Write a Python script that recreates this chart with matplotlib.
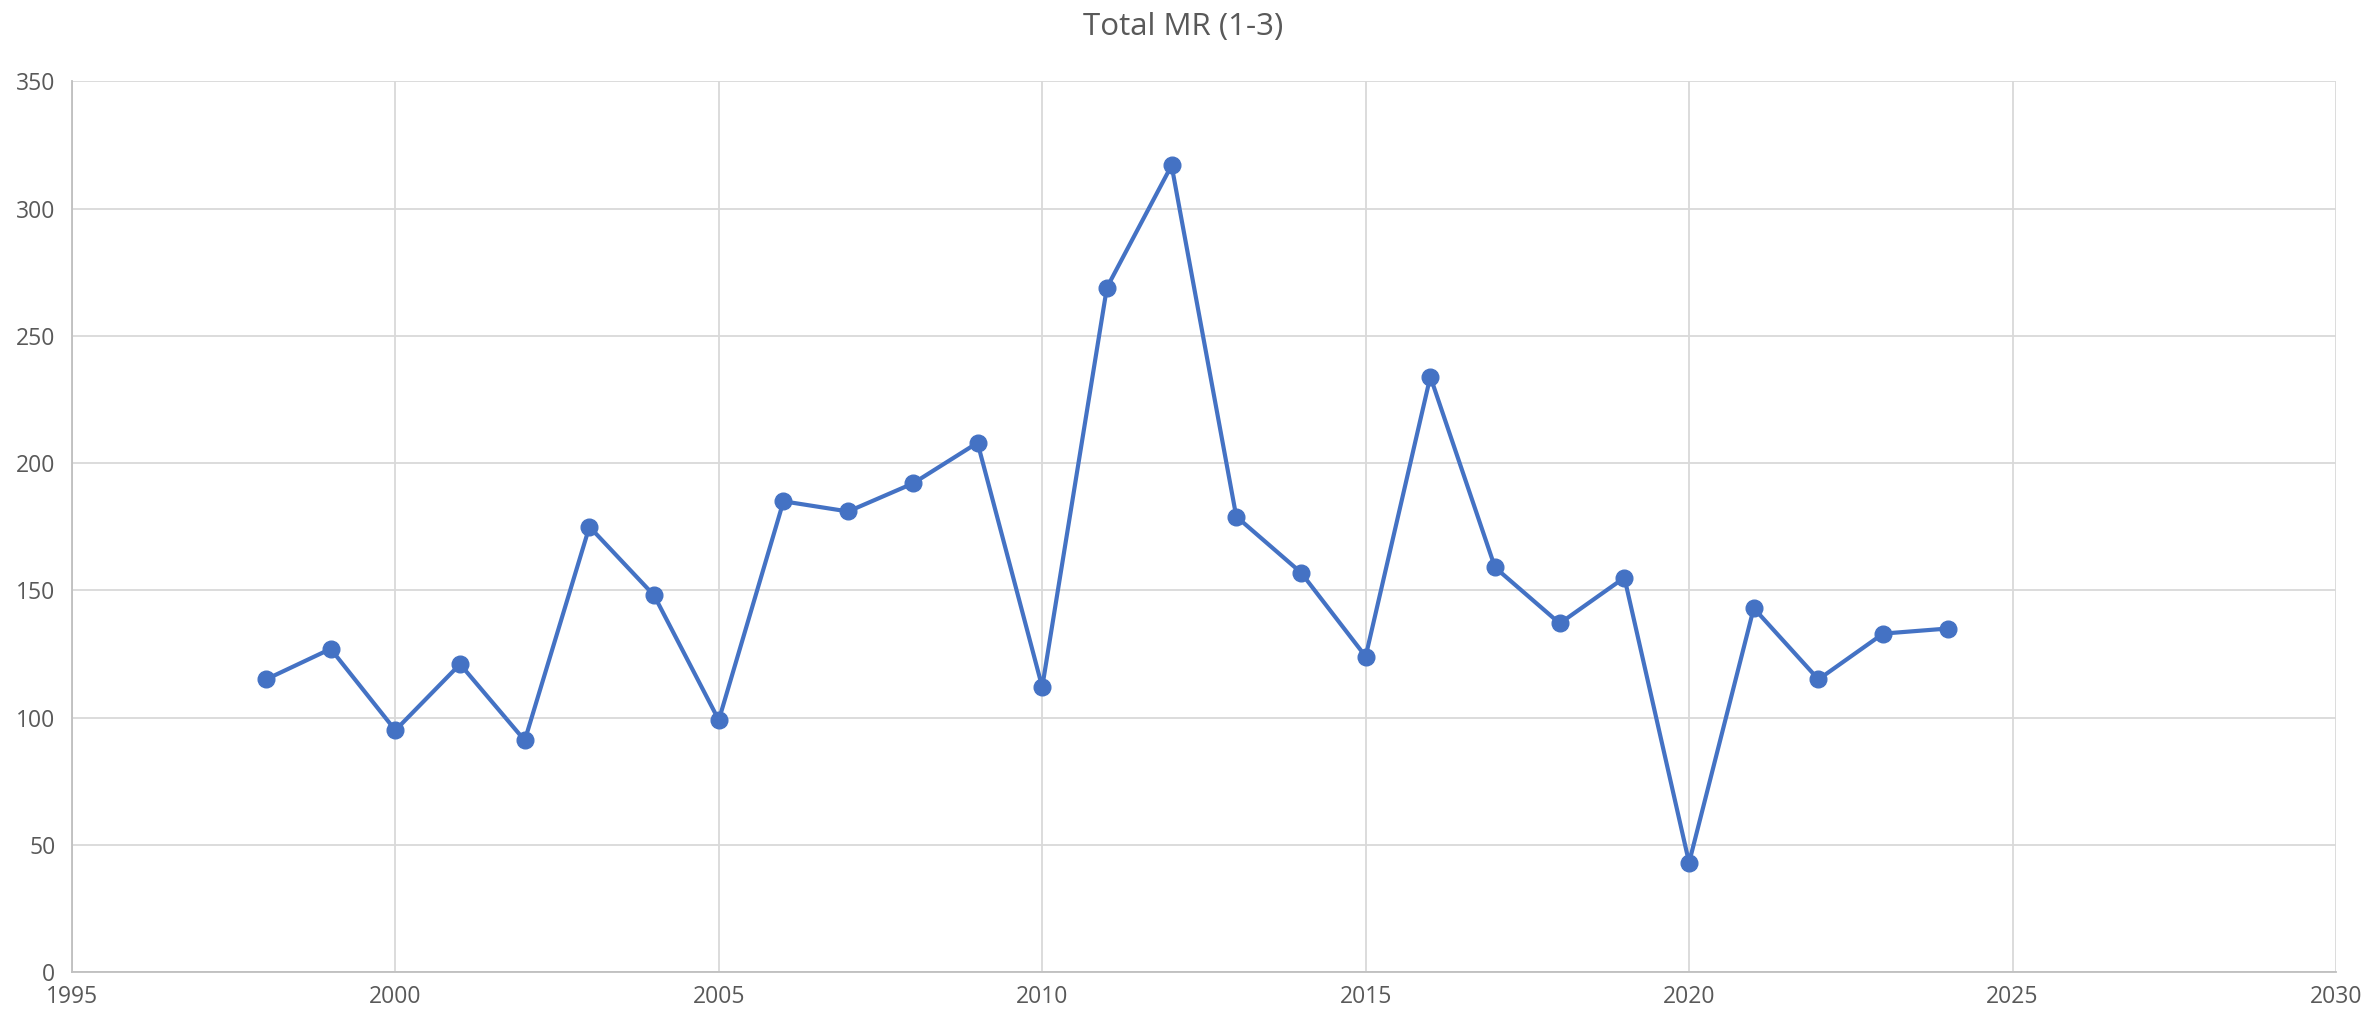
import matplotlib
matplotlib.use("Agg")
import matplotlib.pyplot as plt

# values
years = [1998, 1999, 2000, 2001, 2002, 2003, 2004, 2005, 2006, 2007, 2008, 2009,
         2010, 2011, 2012, 2013, 2014, 2015, 2016, 2017, 2018, 2019, 2020, 2021,
         2022, 2023, 2024]
total_mr = [115, 127, 95, 121, 91, 175, 148, 99, 185, 181, 192, 208,
            112, 269, 317, 179, 157, 124, 234, 159, 137, 155, 43, 143,
            115, 133, 135]
x_ticks = [1995, 2000, 2005, 2010, 2015, 2020, 2025, 2030]
y_ticks = [0, 50, 100, 150, 200, 250, 300, 350]

plt.rcParams['font.family'] = ['Open Sans', 'DejaVu Sans']

fig = plt.figure(figsize=(23.66, 10.16), dpi=100)
ax = fig.add_axes([0.0304, 0.0433, 0.9569, 0.8765])

ax.plot(years, total_mr, color='#4472C4', linewidth=3.0, marker='o',
        markersize=12, zorder=3)

ax.set_xlim(1995, 2030)
ax.set_ylim(0, 350)
ax.set_xticks(x_ticks)
ax.set_yticks(y_ticks)
ax.grid(True, color='#D9D9D9', linewidth=1.3)
ax.set_axisbelow(True)

for s in ['top', 'right']:
    ax.spines[s].set_visible(False)
for s in ['left', 'bottom']:
    ax.spines[s].set_color('#BFBFBF')
    ax.spines[s].set_linewidth(1.3)

ax.tick_params(axis='both', length=0, labelsize=16.5, labelcolor='#595959')
ax.tick_params(axis='y', pad=12)
ax.tick_params(axis='x', pad=9)

fig.text(0.5, 0.973, 'Total MR (1-3)', ha='center', va='center',
         fontsize=22.5, color='#595959')

fig.savefig('out.png', dpi=100)
